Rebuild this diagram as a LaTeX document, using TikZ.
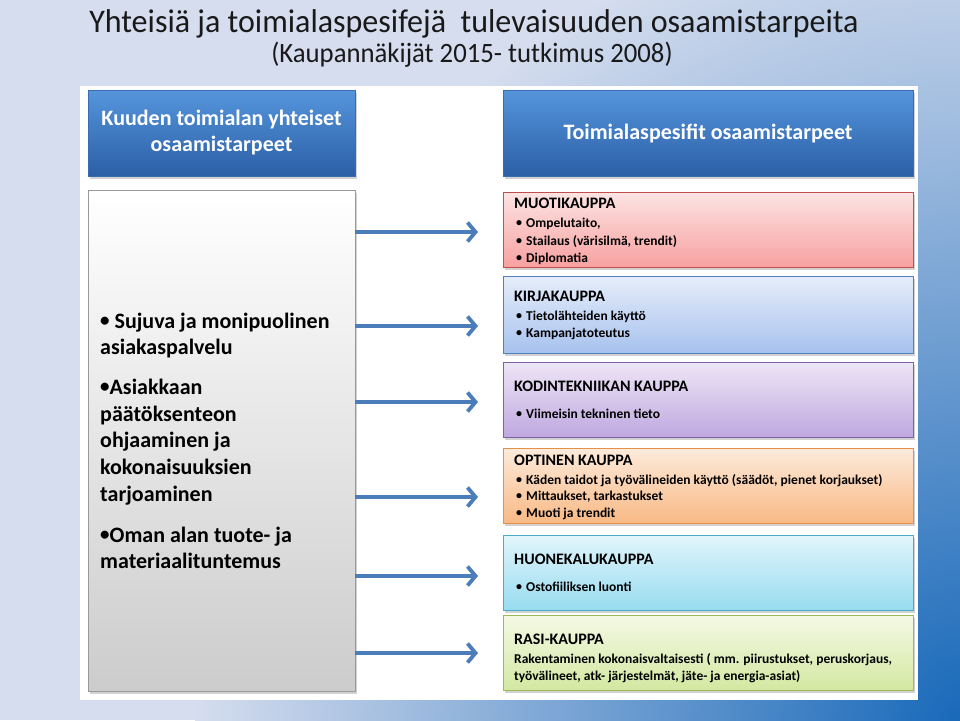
\documentclass[tikz,border=0pt]{standalone}
\usepackage{fontspec}
\setmainfont{Carlito}
\usetikzlibrary{arrows.meta,shadows}
\definecolor{bgl}{HTML}{D5DDEE}
\definecolor{bgd}{HTML}{1466B8}
\definecolor{hdrt}{HTML}{5595DC}
\definecolor{hdrb}{HTML}{2B5FA6}
\definecolor{hdrline}{HTML}{3A6DB0}
\definecolor{arrc}{HTML}{4A7DBA}
\definecolor{muot}{HTML}{FDE4E4}\definecolor{muob}{HTML}{F7A1A0}\definecolor{muol}{HTML}{C0504D}
\definecolor{kirt}{HTML}{E6EDFA}\definecolor{kirb}{HTML}{A7C2EE}\definecolor{kirl}{HTML}{4F81BD}
\definecolor{kodt}{HTML}{EEE6F6}\definecolor{kodb}{HTML}{BFA8E0}\definecolor{kodl}{HTML}{8064A2}
\definecolor{optt}{HTML}{FDEBDC}\definecolor{optb}{HTML}{F8B984}\definecolor{optl}{HTML}{E6914A}
\definecolor{huot}{HTML}{E2F5FB}\definecolor{huob}{HTML}{97DCF0}\definecolor{huol}{HTML}{4BACC6}
\definecolor{rast}{HTML}{F5F9E6}\definecolor{rasb}{HTML}{D3E8A1}\definecolor{rasl}{HTML}{9BBB59}
\newcommand\smallbul{\raisebox{1.3pt}{\fontsize{12}{12}\selectfont•}}
\newcommand\bigbul{\raisebox{2.2pt}{\fontsize{19}{19}\selectfont•}}
\newcommand\myitem[4]{\node[itemtext] (#1) at (#2,#3) {\makebox[10pt][l]{\smallbul}#4};}
\begin{document}
\begin{tikzpicture}[x=1pt,y=-1pt,
  shad/.style={drop shadow={shadow xshift=1.5pt,shadow yshift=-2.5pt,opacity=0.35}},
  hdr/.style={rectangle,inner sep=0pt,draw=hdrline,line width=0.8pt,top color=hdrt,bottom color=hdrb,shad,
    text=white,font=\bfseries\fontsize{22}{26}\selectfont,align=center},
  grey/.style={rectangle,inner sep=0pt,draw=black!40,line width=0.8pt,top color=white,bottom color=black!20,shad},
  cbox/.style={rectangle,inner sep=0pt,line width=0.8pt,minimum width=410pt,minimum height=75pt,shad},
  fixh/.style={text height=0.7em,text depth=0.2em,yshift=-2pt},
  boxtitle/.style={anchor=west,inner sep=0pt,fixh,font=\bfseries\fontsize{16}{19}\selectfont},
  itemtext/.style={anchor=west,inner sep=0pt,fixh,font=\bfseries\fontsize{13.5}{16}\selectfont},
  lefttext/.style={anchor=west,inner sep=0pt,fixh,font=\bfseries\fontsize{22}{26}\selectfont},
  arr/.style={draw=arrc,line width=3.8pt,-{Straight Barb[length=8pt,width=19pt]}}]
\useasboundingbox (0,0) rectangle (960,720);
% background
\fill[bgl] (0,0) rectangle (960,720);
\begin{scope}
\clip (0,0) rectangle (960,720);
\shade[inner color=bgd,outer color=bgl] (975,735) ellipse (780 and 840);
\end{scope}
% titles
\node[inner sep=0pt,font=\fontsize{33}{38}\selectfont,text=black!90] (t1) at (474,24) {\scalebox{0.97}[1]{Yhteisiä ja toimialaspesifejä\ \ tulevaisuuden osaamistarpeita}};
\node[inner sep=0pt,font=\fontsize{28}{32}\selectfont,text=black!90] (t2) at (472,55) {\scalebox{0.955}[1]{(Kaupannäkijät 2015- tutkimus 2008)}};
% panel
\fill[white] (80,86) rectangle (918,700);
% headers
\node[hdr,minimum width=267pt,minimum height=86pt] (h1) at (221.5,133) {Kuuden toimialan yhteiset\\osaamistarpeet};
\node[hdr,minimum width=410pt,minimum height=86pt] (h2) at (708,133) {Toimialaspesifit osaamistarpeet};
% grey box
\node[grey,minimum width=267pt,minimum height=501pt] (g) at (221.5,440.5) {};
\node[lefttext] (l1) at (100,324) {\bigbul\ Sujuva ja monipuolinen};
\node[lefttext] (l2) at (100,350) {asiakaspalvelu};
\node[lefttext] (l3) at (100,390) {\bigbul Asiakkaan};
\node[lefttext] (l4) at (100,417) {päätöksenteon};
\node[lefttext] (l5) at (100,443) {ohjaaminen ja};
\node[lefttext] (l6) at (100,470) {kokonaisuuksien};
\node[lefttext] (l7) at (100,497) {tarjoaminen};
\node[lefttext] (l8) at (100,538) {\bigbul Oman alan tuote- ja};
\node[lefttext] (l9) at (100,564) {materiaalituntemus};
% colored boxes
\node[cbox,draw=muol,top color=muot,bottom color=muob] (b1) at (708,229.5) {};
\node[cbox,draw=kirl,top color=kirt,bottom color=kirb,minimum height=77pt] (b2) at (708,314.5) {};
\node[cbox,draw=kodl,top color=kodt,bottom color=kodb] (b3) at (708,399.5) {};
\node[cbox,draw=optl,top color=optt,bottom color=optb] (b4) at (708,485.5) {};
\node[cbox,draw=huol,top color=huot,bottom color=huob] (b5) at (708,572.5) {};
\node[cbox,draw=rasl,top color=rast,bottom color=rasb] (b6) at (708,652.5) {};
% texts
\node[boxtitle] (b1t) at (514,204) {MUOTIKAUPPA};
\myitem{b1a}{516}{223}{Ompelutaito,}
\myitem{b1b}{516}{241}{Stailaus (värisilmä, trendit)}
\myitem{b1c}{516}{258}{Diplomatia}
\node[boxtitle] (b2t) at (514,297) {KIRJAKAUPPA};
\myitem{b2a}{516}{316}{Tietolähteiden käyttö}
\myitem{b2b}{516}{333}{Kampanjatoteutus}
\node[boxtitle] (b3t) at (514,387) {KODINTEKNIIKAN KAUPPA};
\myitem{b3a}{516}{414}{Viimeisin tekninen tieto}
\node[boxtitle] (b4t) at (514,461) {OPTINEN KAUPPA};
\myitem{b4a}{516}{480}{Käden taidot ja työvälineiden käyttö (säädöt, pienet korjaukset)}
\myitem{b4b}{516}{496}{Mittaukset, tarkastukset}
\myitem{b4c}{516}{513}{Muoti ja trendit}
\node[boxtitle] (b5t) at (514,560) {HUONEKALUKAUPPA};
\myitem{b5a}{516}{587}{Ostofiiliksen luonti}
\node[boxtitle] (b6t) at (514,640) {RASI-KAUPPA};
\node[itemtext] (b6a) at (514,659) {Rakentaminen kokonaisvaltaisesti ( mm. piirustukset, peruskorjaus,};
\node[itemtext] (b6b) at (514,676) {työvälineet, atk- järjestelmät, jäte- ja energia-asiat)};
% arrows
\coordinate (a1) at (478,232);
\coordinate (a2) at (478,326);
\coordinate (a3) at (478,402);
\coordinate (a4) at (478,497);
\coordinate (a5) at (478,576);
\coordinate (a6) at (478,653);
\foreach \a in {a1,a2,a3,a4,a5,a6}{\draw[arr] (g.east |- \a) -- (\a);}
\end{tikzpicture}
\end{document}
